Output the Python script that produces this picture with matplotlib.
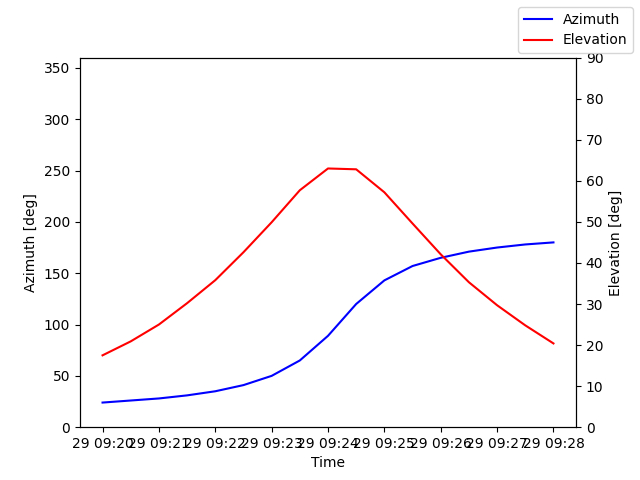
import matplotlib
matplotlib.use("Agg")
import matplotlib.pyplot as plt
import matplotlib.dates as mdates
import pandas as pd

times = pd.date_range("2024-01-29 09:20:00", "2024-01-29 09:28:00", freq="30s")
azimuth = [24, 26, 28, 31, 35, 41, 50, 65, 89, 120, 143, 157, 165, 171, 175, 178, 180]
elevation = [17.5, 20.9, 25.0, 30.2, 35.8, 42.6, 49.9, 57.7, 63.0, 62.8, 57.2, 49.6,
             42.1, 35.3, 29.7, 24.8, 20.4]

fig, ax = plt.subplots(figsize=(6.4, 4.8), dpi=100)
ax.plot(times, azimuth, color="blue", label="Azimuth")
ax.set_ylim(0, 360)
ax.set_ylabel("Azimuth [deg]")
ax.set_xlabel("Time")
ax.xaxis.set_major_locator(mdates.MinuteLocator())
ax.xaxis.set_major_formatter(mdates.DateFormatter("%d %H:%M"))

ax2 = ax.twinx()
ax2.plot(times, elevation, color="red", label="Elevation")
ax2.set_ylim(0, 90)
ax2.set_ylabel("Elevation [deg]")

fig.legend(loc="upper right")
fig.savefig("out.png")
